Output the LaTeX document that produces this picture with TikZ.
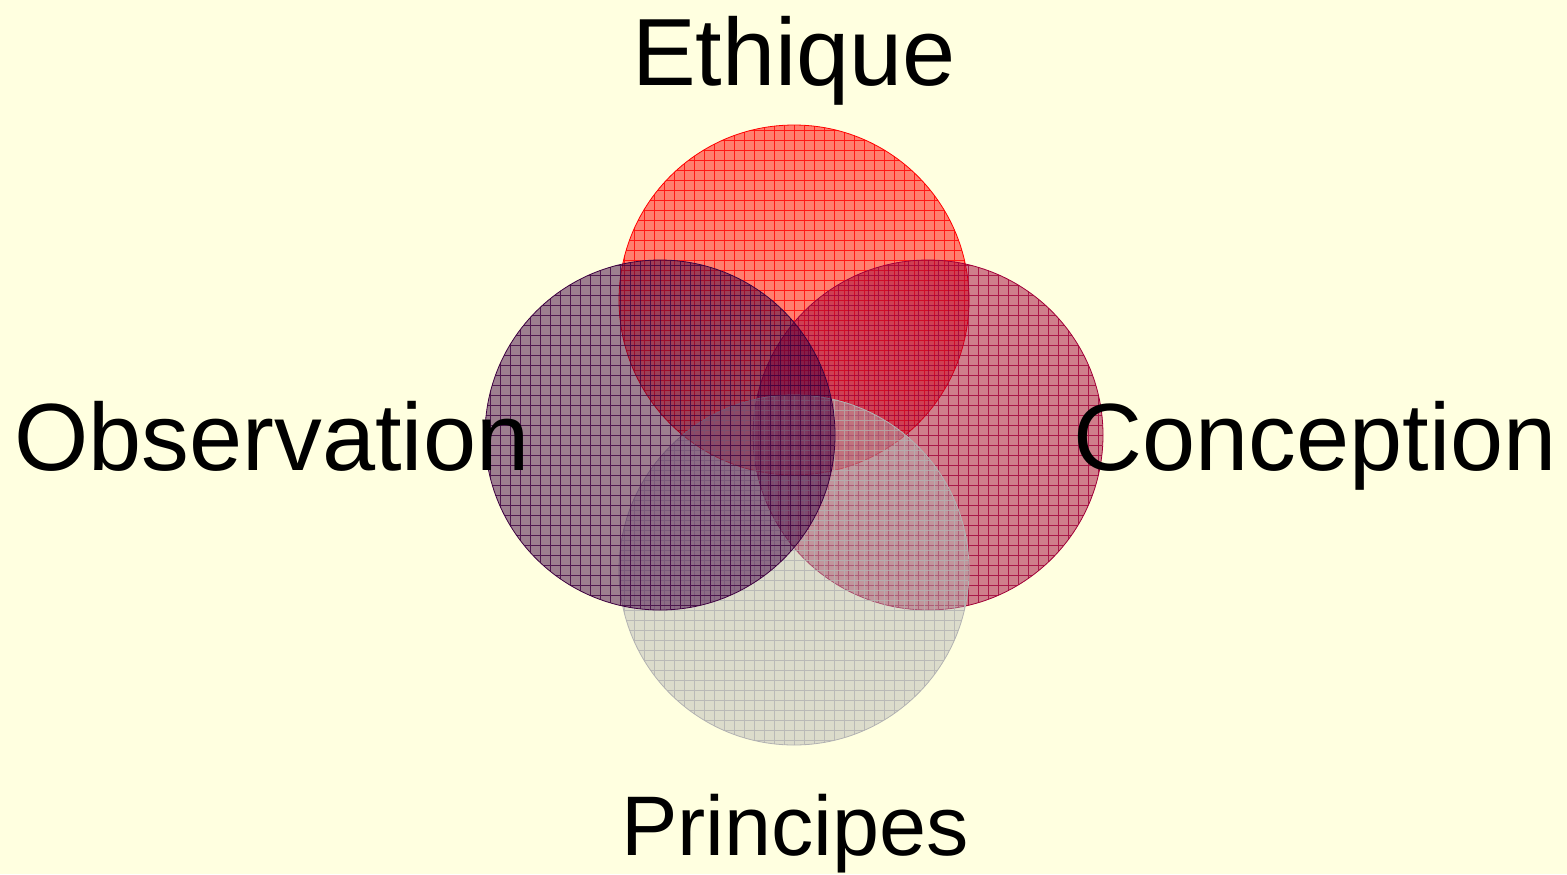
\documentclass[tikz,border=0pt]{standalone}
\usepackage{fontspec}
\setmainfont{Liberation Sans}
\usetikzlibrary{positioning}

\definecolor{cream}{RGB}{255,255,224}
\definecolor{plum}{rgb}{0.24,0,0.25}
\definecolor{wine}{rgb}{0.63,0,0.22}

\begin{document}
\begin{tikzpicture}[x=0.5pt,y=-0.5pt,
  ring/.style={circle,minimum size=175pt,inner sep=0pt,draw=#1,fill=#1,fill opacity=0.5,
    path picture={\draw[#1,line width=0.4pt,draw opacity=0.8]
      (path picture bounding box.south west) grid[step=5pt] (path picture bounding box.north east);}},
  label node/.style={font=\fontsize{47.75}{50}\selectfont,anchor=base,inner sep=0pt}]

  \fill[cream] (0,0) rectangle (1567,874);
  \useasboundingbox (0,0) rectangle (1567,874);

  \node[ring=red] (ethique) at (794,300) {};
  \node[ring=wine] (conception) at (928,435) {};
  \node[ring=gray!60,fill opacity=0.45] (principes) at (794,570) {};
  \node[ring=plum] (observation) at (660,435) {};

  \node[label node] (lethique) at (794,85) {Ethique};
  \node[label node] (lobservation) at (272,470) {Observation};
  \node[label node] (lconception) at (1315,470) {Conception};
  \node[label node,font=\fontsize{42.3}{44}\selectfont] (lprincipes) at (795,855) {Principes};

\end{tikzpicture}
\end{document}
